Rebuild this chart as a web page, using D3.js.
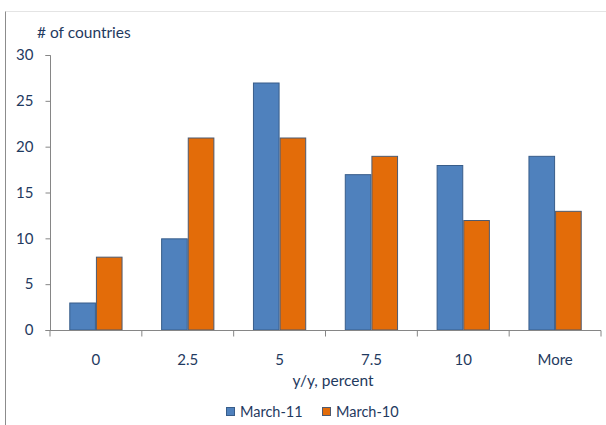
<!DOCTYPE html>
<html lang="en">
<head>
<meta charset="utf-8">
<title>Countries by y/y percent</title>
<script src="https://cdn.jsdelivr.net/npm/d3@7"></script>
<style>
  body { margin: 0; background: #fff; }
  text { font-family: Lato, "Open Sans", sans-serif; fill: #1f3a60; }
</style>
</head>
<body>
<div id="chart"></div>
<script>
// data
var categories = ["0", "2.5", "5", "7.5", "10", "More"];
var march11 = [3, 10, 27, 17, 18, 19];
var march10 = [8, 21, 21, 19, 12, 13];
var seriesNames = ["March-11", "March-10"];
var yTicks = [0, 5, 10, 15, 20, 25, 30];

var w = 606, h = 425;
var colors = ["#4f81bd", "#e36c09"];
var strokes = ["#385d8a", "#4d5a70"];

var svg = d3.select("#chart").append("svg")
  .attr("width", w)
  .attr("height", h);

// frame lines
svg.append("line").attr("x1", 5.5).attr("x2", w).attr("y1", 11.5).attr("y2", 11.5)
  .attr("stroke", "#e4e4e4");
svg.append("line").attr("x1", 5.5).attr("x2", 5.5).attr("y1", 11.5).attr("y2", h)
  .attr("stroke", "#8c8c8c");

var x = d3.scaleBand().domain(categories).range([50, 601]);
var y = d3.scaleLinear().domain([0, 30]).range([330, 55]);
var groupW = x.bandwidth() * 0.58;
var x1 = d3.scaleBand().domain(seriesNames).range([0, groupW]);

var rows = categories.map(function(c, i) {
  return { cat: c, vals: [march11[i], march10[i]] };
});

var groups = svg.selectAll("g.grp")
  .data(rows)
  .enter().append("g")
  .attr("class", "grp")
  .attr("transform", function(d) {
    return "translate(" + (x(d.cat) + (x.bandwidth() - groupW) / 2) + ",0)";
  });

groups.selectAll("rect")
  .data(function(d) { return d.vals.map(function(v, j) { return { v: v, j: j }; }); })
  .enter().append("rect")
  .attr("x", function(d) { return x1(seriesNames[d.j]) + 0.5; })
  .attr("y", function(d) { return y(d.v) + 0.5; })
  .attr("width", x1.bandwidth() - 1)
  .attr("height", function(d) { return y(0) - y(d.v) - 0.5; })
  .attr("fill", function(d) { return colors[d.j]; })
  .attr("stroke", function(d) { return strokes[d.j]; })
  .attr("stroke-width", 1);

// y axis
var yAxis = d3.axisLeft(y).tickValues(yTicks).tickSize(5).tickPadding(12);
var gy = svg.append("g").attr("transform", "translate(50.5,0)").call(yAxis);
gy.select(".domain").attr("stroke", "#868686").attr("d", "M-5,55.5H0V330.5H-5");
gy.selectAll(".tick line").attr("stroke", "#868686");
gy.selectAll(".tick text").style("font-size", "15px").attr("fill", "#1f3a60");

// x axis
var xAxis = d3.axisBottom(x).tickSize(0).tickPadding(24);
var gx = svg.append("g").attr("transform", "translate(0,330.5)").call(xAxis);
gx.select(".domain").attr("stroke", "#868686").attr("d", "M50,0H601");
gx.selectAll(".tick text").style("font-size", "15px").attr("fill", "#1f3a60");
gx.selectAll("line.sep")
  .data(categories.concat(["end"]))
  .enter().append("line")
  .attr("class", "sep")
  .attr("x1", function(d, i) { return i < categories.length ? x(d) : x.range()[1]; })
  .attr("x2", function(d, i) { return i < categories.length ? x(d) : x.range()[1]; })
  .attr("y1", 0).attr("y2", 6)
  .attr("stroke", "#868686");

// titles
svg.append("text").attr("x", 37).attr("y", 38)
  .style("font-size", "15.5px").text("# of countries");
svg.append("text").attr("x", 333).attr("y", 386).attr("text-anchor", "middle")
  .style("font-size", "15.5px").text("y/y, percent");

// legend
var legX = [226, 322];
var legend = svg.selectAll("g.leg")
  .data(seriesNames)
  .enter().append("g")
  .attr("class", "leg")
  .attr("transform", function(d, i) { return "translate(" + legX[i] + ",407)"; });
legend.append("rect").attr("x", 0.5).attr("y", 0.5).attr("width", 8).attr("height", 8)
  .attr("fill", function(d, i) { return colors[i]; })
  .attr("stroke", function(d, i) { return strokes[i]; });
legend.append("text").attr("x", 14).attr("y", 10)
  .style("font-size", "14.5px").text(function(d) { return d; });
</script>
</body>
</html>
